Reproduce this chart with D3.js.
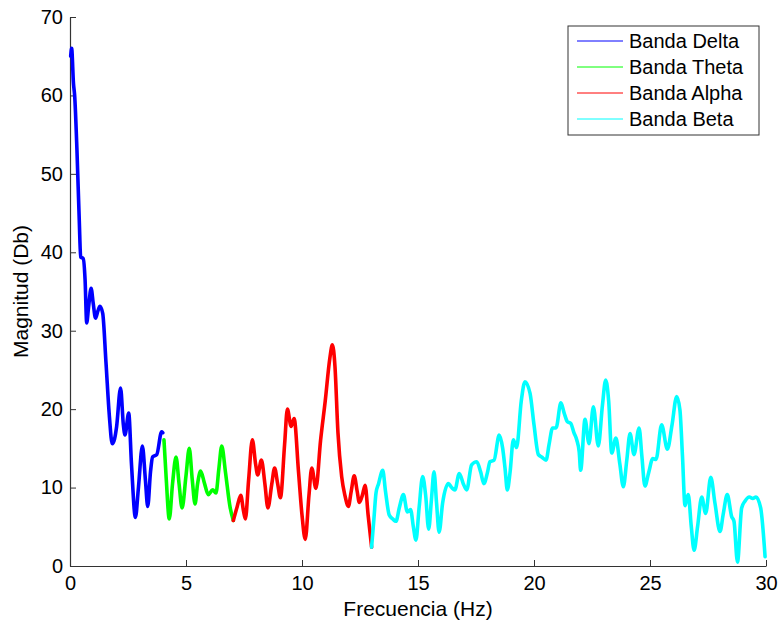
<!DOCTYPE html>
<html>
<head>
<meta charset="utf-8">
<script src="https://d3js.org/d3.v7.min.js"></script>
<style>
  body { margin: 0; background: #fff; }
  text { font-family: "Liberation Sans", Arial, sans-serif; fill: #000; }
</style>
</head>
<body>
<svg id="chart" width="780" height="622"></svg>
<script>
// Espectro EEG por bandas - [frecuencia Hz, magnitud Db]
const bandaDelta = [
  [0.03, 65.0], [0.07, 66.0], [0.15, 61.5], [0.2, 60.0], [0.3, 53.0], [0.4, 44.0],
  [0.46, 39.4], [0.57, 39.2], [0.65, 36.5], [0.72, 31.0], [0.8, 33.0], [0.91, 35.4],
  [1.0, 33.5], [1.1, 31.6], [1.2, 32.5], [1.29, 33.1], [1.41, 32.2], [1.55, 26.0],
  [1.7, 19.0], [1.82, 15.6], [1.92, 16.2], [2.01, 17.8], [2.18, 22.7], [2.3, 18.0],
  [2.37, 16.7], [2.53, 19.5], [2.65, 13.0], [2.82, 6.2], [2.95, 10.0], [3.12, 15.3],
  [3.25, 11.0], [3.35, 7.6], [3.47, 12.0], [3.56, 13.9], [3.74, 14.2], [3.95, 17.1],
  [4.0, 17.0]
];
const bandaTheta = [
  [4.05, 16.1], [4.15, 11.0], [4.28, 6.0], [4.42, 10.5], [4.57, 13.9], [4.7, 10.5],
  [4.83, 7.4], [5.0, 11.5], [5.14, 15.0], [5.27, 11.0], [5.39, 7.9], [5.5, 10.5],
  [5.63, 12.1], [5.8, 10.5], [5.96, 9.1], [6.15, 9.7], [6.29, 9.3], [6.42, 12.5],
  [6.54, 15.3], [6.7, 12.0], [6.9, 7.5], [7.04, 5.8]
];
const bandaAlpha = [
  [7.04, 5.8], [7.2, 7.5], [7.36, 9.0], [7.48, 7.0], [7.56, 6.0], [7.7, 11.0],
  [7.86, 16.1], [8.0, 13.0], [8.09, 11.6], [8.25, 13.5], [8.4, 10.5], [8.53, 7.4],
  [8.7, 10.5], [8.82, 12.5], [8.95, 10.5], [9.07, 8.7], [9.25, 15.5], [9.37, 20.0],
  [9.53, 17.8], [9.66, 18.8], [9.85, 12.0], [10.0, 6.5], [10.14, 3.4], [10.3, 9.0],
  [10.42, 12.5], [10.6, 9.9], [10.8, 16.0], [11.0, 21.0], [11.2, 26.5], [11.31, 28.2],
  [11.42, 25.5], [11.55, 17.0], [11.71, 11.4], [11.85, 9.0], [12.0, 7.6], [12.12, 9.5],
  [12.25, 11.5], [12.38, 9.5], [12.47, 8.1], [12.6, 9.0], [12.72, 10.3], [12.85, 6.5],
  [13.0, 2.4]
];
const bandaBeta = [
  [13.0, 2.4], [13.1, 6.0], [13.19, 9.3], [13.3, 10.5], [13.48, 12.2], [13.6, 9.5],
  [13.76, 6.5], [13.91, 6.0], [14.05, 5.7], [14.2, 7.5], [14.37, 9.1], [14.54, 6.9],
  [14.68, 7.2], [14.8, 5.0], [14.91, 3.3], [15.05, 7.5], [15.2, 11.4], [15.33, 9.0],
  [15.46, 4.7], [15.58, 8.5], [15.69, 12.0], [15.8, 8.0], [15.91, 4.3], [16.06, 8.0],
  [16.31, 10.5], [16.45, 10.0], [16.59, 9.7], [16.78, 11.8], [16.95, 10.5], [17.1, 9.7],
  [17.31, 12.9], [17.53, 13.3], [17.7, 12.0], [17.84, 10.5], [18.0, 12.0], [18.1, 13.3],
  [18.28, 13.5], [18.5, 16.7], [18.65, 15.0], [18.75, 12.5], [18.85, 9.7], [18.97, 12.0],
  [19.11, 16.1], [19.25, 15.1], [19.45, 21.0], [19.61, 23.5], [19.83, 22.0], [20.0, 18.0],
  [20.19, 14.2], [20.33, 13.9], [20.52, 13.5], [20.65, 15.5], [20.8, 17.6], [20.95, 17.6],
  [21.16, 20.8], [21.3, 19.5], [21.44, 18.4], [21.58, 18.2], [21.72, 17.0], [21.84, 16.1],
  [21.95, 14.5], [22.01, 12.2], [22.2, 18.7], [22.37, 15.6], [22.56, 20.3], [22.77, 15.3],
  [22.95, 20.5], [23.09, 23.7], [23.22, 21.0], [23.35, 14.4], [23.53, 16.3], [23.7, 13.0],
  [23.85, 10.1], [24.0, 13.5], [24.14, 16.9], [24.31, 14.2], [24.53, 17.6], [24.65, 14.0],
  [24.78, 10.2], [24.95, 12.0], [25.12, 13.7], [25.26, 13.6], [25.5, 18.0], [25.75, 14.9],
  [25.95, 18.0], [26.15, 21.6], [26.29, 19.9], [26.4, 14.0], [26.51, 7.7], [26.58, 8.5],
  [26.65, 9.1], [26.78, 5.0], [26.9, 2.0], [27.05, 5.0], [27.23, 8.8], [27.4, 6.7],
  [27.62, 11.3], [27.8, 8.0], [28.02, 4.4], [28.15, 6.5], [28.33, 9.1], [28.52, 6.3],
  [28.62, 5.7], [28.77, 0.5], [28.95, 7.4], [29.1, 8.3], [29.28, 8.8], [29.43, 8.6],
  [29.57, 8.8], [29.77, 7.4], [29.96, 1.2]
];

const bandNames = ["Banda Delta", "Banda Theta", "Banda Alpha", "Banda Beta"];
const bandColors = ["#0000ff", "#00ff00", "#ff0000", "#00ffff"];
const xTicks = [0, 5, 10, 15, 20, 25, 30];
const yTicks = [0, 10, 20, 30, 40, 50, 60, 70];

const margin = { top: 17, right: 14, bottom: 56, left: 70 };
const width = 780 - margin.left - margin.right;
const height = 622 - margin.top - margin.bottom;

const svg = d3.select("#chart");
const g = svg.append("g").attr("transform", `translate(${margin.left},${margin.top})`);

const x = d3.scaleLinear().domain([0, 30]).range([0, width]);
const y = d3.scaleLinear().domain([0, 70]).range([height, 0]);

// Axes (MATLAB style: ticks inward)
const xAxis = g.append("g")
  .attr("transform", `translate(0,${height})`)
  .call(d3.axisBottom(x).tickValues(xTicks).tickSizeInner(-6).tickSizeOuter(0).tickPadding(10));
const yAxis = g.append("g")
  .call(d3.axisLeft(y).tickValues(yTicks).tickSizeInner(-6).tickSizeOuter(0).tickPadding(7));

[xAxis, yAxis].forEach(ax => {
  ax.select(".domain").attr("stroke", "#333").attr("stroke-width", 1.2);
  ax.selectAll(".tick line").attr("stroke", "#333");
  ax.selectAll(".tick text")
    .style("font-family", '"Liberation Sans", Arial, sans-serif')
    .style("font-size", "20px")
    .attr("fill", "#000");
});

// Curves
const line = d3.line()
  .x(d => x(d[0]))
  .y(d => y(d[1]))
  .curve(d3.curveMonotoneX);

const bands = [bandaDelta, bandaTheta, bandaAlpha, bandaBeta];
bands.forEach((data, i) => {
  g.append("path")
    .datum(data)
    .attr("fill", "none")
    .attr("stroke", bandColors[i])
    .attr("stroke-width", 3.6)
    .attr("stroke-linejoin", "round")
    .attr("stroke-linecap", "round")
    .attr("d", line);
});

// Axis labels
svg.append("text")
  .attr("x", margin.left + width / 2)
  .attr("y", 616)
  .attr("text-anchor", "middle")
  .style("font-size", "21px")
  .text("Frecuencia (Hz)");

svg.append("text")
  .attr("transform", `translate(28,${margin.top + height / 2}) rotate(-90)`)
  .attr("text-anchor", "middle")
  .style("font-size", "21px")
  .text("Magnitud (Db)");

// Legend
const legend = svg.append("g").attr("transform", "translate(568,26)");
legend.append("rect")
  .attr("width", 191).attr("height", 109)
  .attr("fill", "#fff").attr("stroke", "#333").attr("stroke-width", 1);

bandNames.forEach((name, i) => {
  const row = legend.append("g").attr("transform", `translate(0,${15 + i * 26})`);
  row.append("line")
    .attr("x1", 9).attr("x2", 55)
    .attr("stroke", bandColors[i]).attr("stroke-width", 1);
  row.append("text")
    .attr("x", 61).attr("dy", "0.35em")
    .style("font-size", "20px")
    .text(name);
});
</script>
</body>
</html>
